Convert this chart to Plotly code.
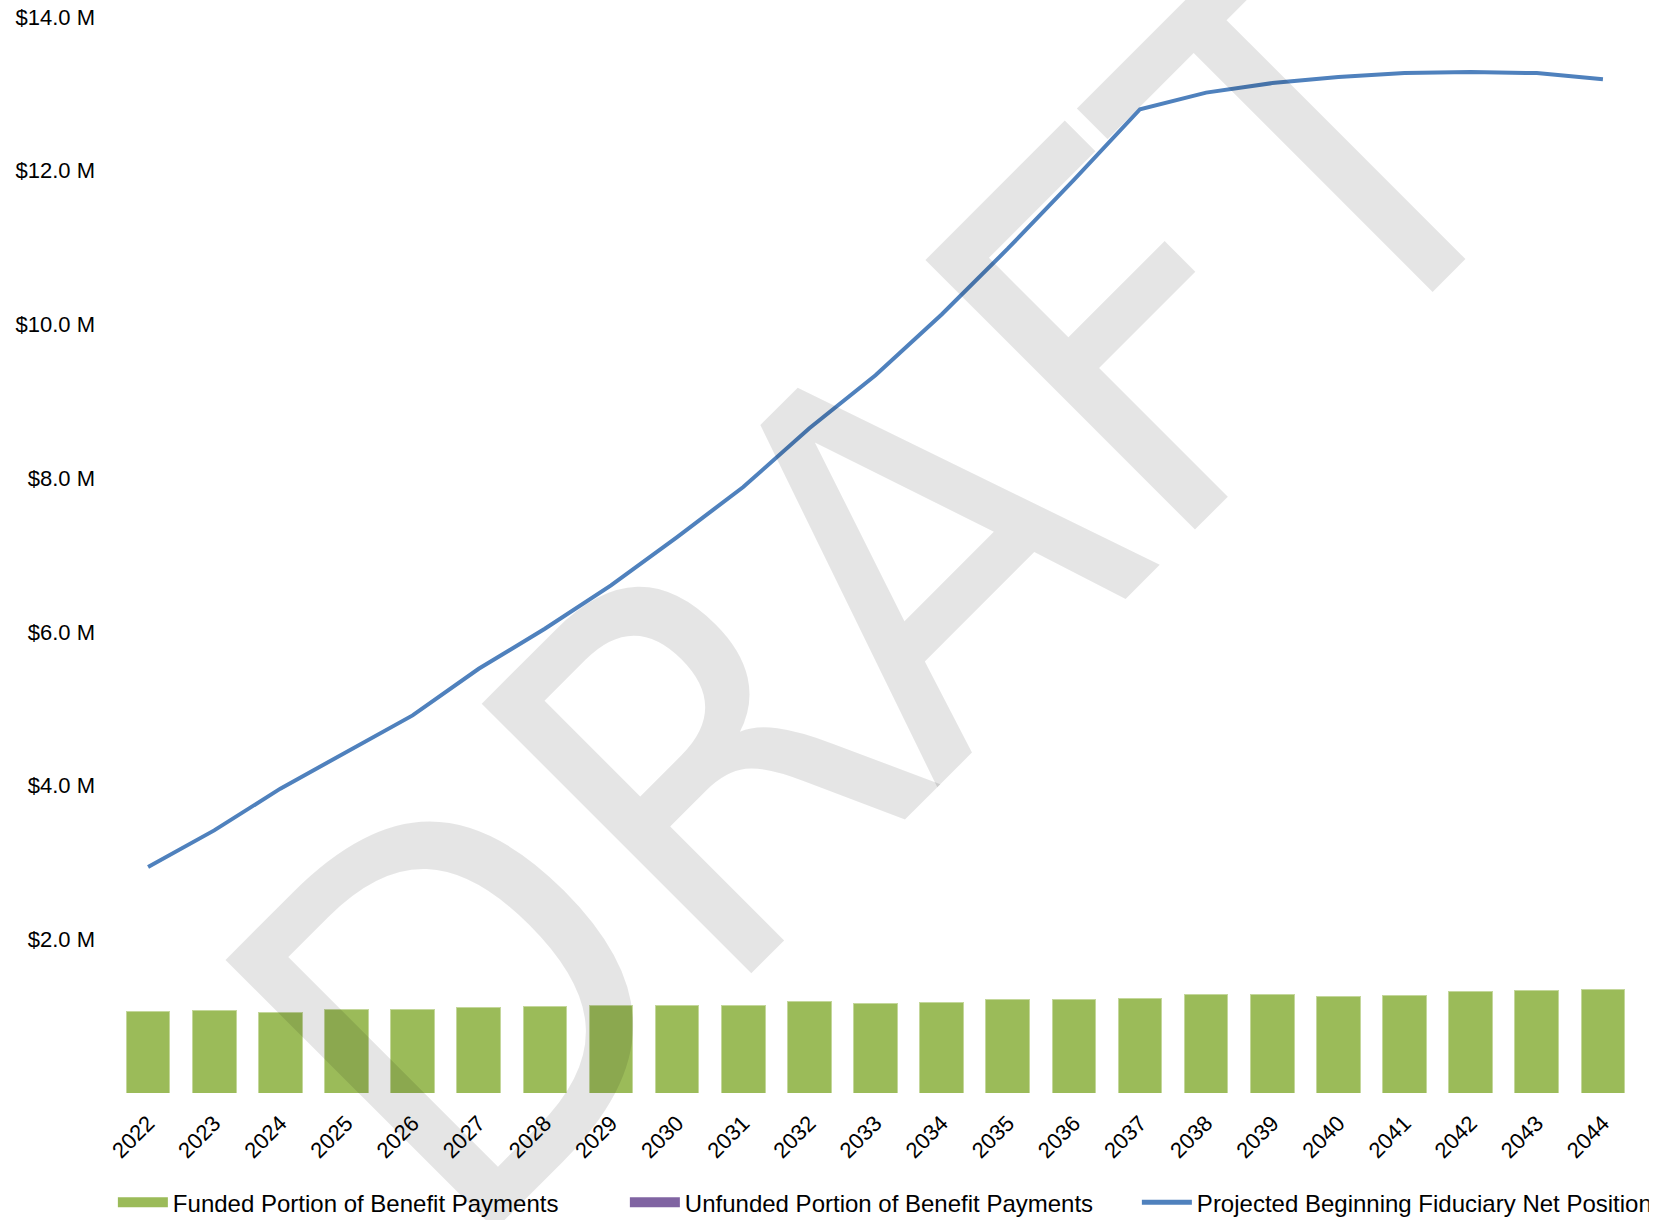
import plotly.graph_objects as go

years = [str(y) for y in range(2022, 2045)]

# values in $ millions
funded = [1.054, 1.075, 1.049, 1.084, 1.088, 1.110, 1.123, 1.140, 1.145, 1.145,
          1.188, 1.166, 1.175, 1.223, 1.223, 1.231, 1.279, 1.288, 1.257, 1.266,
          1.327, 1.331, 1.344]
unfunded = [0.0] * 23
net_position = [2.94, 3.417, 3.96, 4.436, 4.913, 5.52, 6.04, 6.605, 7.234, 7.884,
                8.65, 9.338, 10.13, 10.985, 11.88, 12.80, 13.016, 13.14, 13.22, 13.27,
                13.285, 13.27, 13.19]

ytick_vals = [2, 4, 6, 8, 10, 12, 14]
ytick_text = ["$2.0 M", "$4.0 M", "$6.0 M", "$8.0 M", "$10.0 M", "$12.0 M", "$14.0 M"]

names = ["Funded Portion of Benefit Payments",
         "Unfunded Portion of Benefit Payments",
         "Projected Beginning Fiduciary Net Position"]

GREEN = "#9BBB59"
PURPLE = "#8064A2"
BLUE = "#4F81BD"
FONT = "Liberation Sans Narrow, DejaVu Sans Condensed, Liberation Sans, Arial, sans-serif"
FONT2 = "Liberation Sans, Arial, sans-serif"

fig = go.Figure()
fig.add_trace(go.Bar(x=years, y=funded, name=names[0], marker_color=GREEN,
                     marker_line=dict(color="#C4D79B", width=1),
                     showlegend=False, legendgroup="f"))
fig.add_trace(go.Bar(x=years, y=unfunded, name=names[1], marker_color=PURPLE,
                     marker_line=dict(width=0), showlegend=False, legendgroup="u"))
fig.add_trace(go.Scatter(x=years, y=net_position, name=names[2], mode="lines",
                         line=dict(color=BLUE, width=4), showlegend=False, legendgroup="n"))

# legend proxies (wide swatches like the original)
fig.add_trace(go.Scatter(x=[None], y=[None], mode="lines", name=names[0],
                         line=dict(color=GREEN, width=14), legendgroup="f"))
fig.add_trace(go.Scatter(x=[None], y=[None], mode="lines", name=names[1],
                         line=dict(color=PURPLE, width=14), legendgroup="u"))
fig.add_trace(go.Scatter(x=[None], y=[None], mode="lines", name=names[2],
                         line=dict(color=BLUE, width=5), legendgroup="n"))

fig.add_annotation(text="DRAFT", xref="paper", yref="paper", x=0.5033, y=0.4695,
                   xanchor="center", yanchor="middle", showarrow=False, textangle=-45,
                   font=dict(family=FONT, size=523, color="rgba(0,0,0,0.10)"))

fig.update_layout(
    width=1668, height=1220,
    margin=dict(l=115, r=32, t=17, b=127, autoexpand=False),
    paper_bgcolor="white", plot_bgcolor="white",
    barmode="stack", bargap=0.34,
    font=dict(family=FONT2, size=20, color="black"),
    showlegend=True,
    legend=dict(orientation="h", x=-0.0014, y=-0.102, xanchor="left", yanchor="middle",
                font=dict(family=FONT2, size=24, color="black"),
                itemwidth=50, entrywidth=447, entrywidthmode="pixels",
                bgcolor="rgba(0,0,0,0)"),
    xaxis=dict(type="category", tickangle=-45, showgrid=False, showline=False,
               zeroline=False, ticks="", ticklabelstandoff=12, automargin=False,
               tickfont=dict(family=FONT2, size=22)),
    yaxis=dict(range=[0, 14], tickvals=ytick_vals, ticktext=ytick_text,
               showgrid=False, showline=False, zeroline=False, ticks="",
               ticklabelstandoff=19, automargin=False,
               tickfont=dict(family=FONT2, size=22)),
)

fig.write_html("out.html", config={"displayModeBar": False},
               post_script="document.body.style.margin='0px';")
